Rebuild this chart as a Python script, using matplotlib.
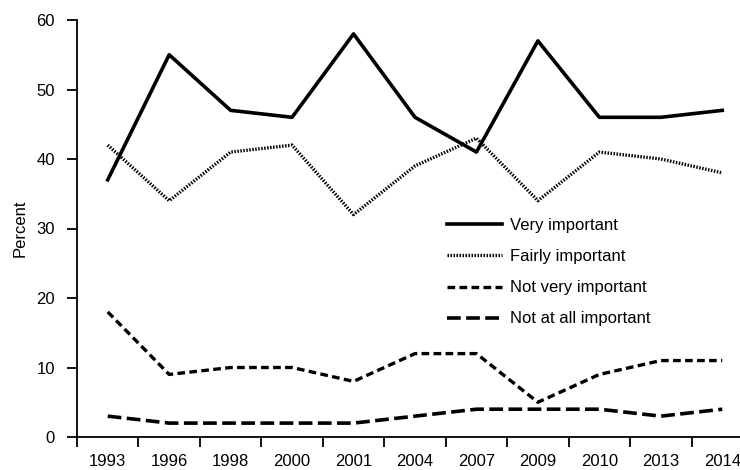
import matplotlib
matplotlib.use("Agg")
import matplotlib.pyplot as plt
import numpy as np

## Survey data (percent)
years = ["1993", "1996", "1998", "2000", "2001", "2004", "2007", "2009", "2010", "2013", "2014"]
very_important = [37, 55, 47, 46, 58, 46, 41, 57, 46, 46, 47]
fairly_important = [42, 34, 41, 42, 32, 39, 43, 34, 41, 40, 38]
not_very_important = [18, 9, 10, 10, 8, 12, 12, 5, 9, 11, 11]
not_at_all_important = [3, 2, 2, 2, 2, 3, 4, 4, 4, 3, 4]

plt.rcParams['font.family'] = ['Liberation Sans', 'DejaVu Sans']

fig = plt.figure(figsize=(7.4, 4.7), dpi=100)
# axes runs a little past the right edge, like the original
ax = fig.add_axes([77 / 740, 33 / 470, 676 / 740, 417 / 470])

x = np.arange(len(years))
ax.plot(x, very_important, color='black', lw=2.6, linestyle='-', label='Very important')
ax.plot(x, fairly_important, color='black', lw=2.4, linestyle=(0, (0.45, 0.45)), label='Fairly important')
ax.plot(x, not_very_important, color='black', lw=2.4, linestyle=(0, (2.3, 1.3)), label='Not very important')
ax.plot(x, not_at_all_important, color='black', lw=2.6, linestyle=(0, (3.8, 1.5)), label='Not at all important')

ax.set_xlim(-0.5, len(years) - 0.5)
ax.set_ylim(0, 60)
ax.set_yticks(range(0, 61, 10))

# category labels centred, tick marks on the boundaries
ax.set_xticks(x)
ax.set_xticklabels(years, fontsize=12)
ax.set_xticks(np.arange(-0.5, len(years), 1), minor=True)
ax.tick_params(axis='x', which='major', length=0, pad=12)
ax.tick_params(axis='x', which='minor', length=7, width=1.3, direction='out')
ax.tick_params(axis='y', length=7, width=1.3, direction='out', labelsize=12, pad=9)

for s in ['top', 'right']:
    ax.spines[s].set_visible(False)
for s in ['left', 'bottom']:
    ax.spines[s].set_linewidth(1.3)

ax.set_ylabel('Percent', fontsize=12, labelpad=6)

ax.legend(loc='upper left', bbox_to_anchor=(432 / 740, 1 - 203 / 470), bbox_transform=fig.transFigure,
          frameon=False, fontsize=12, handlelength=3.3, handletextpad=0.5, labelspacing=0.97)

plt.savefig('out.png', dpi=100)
